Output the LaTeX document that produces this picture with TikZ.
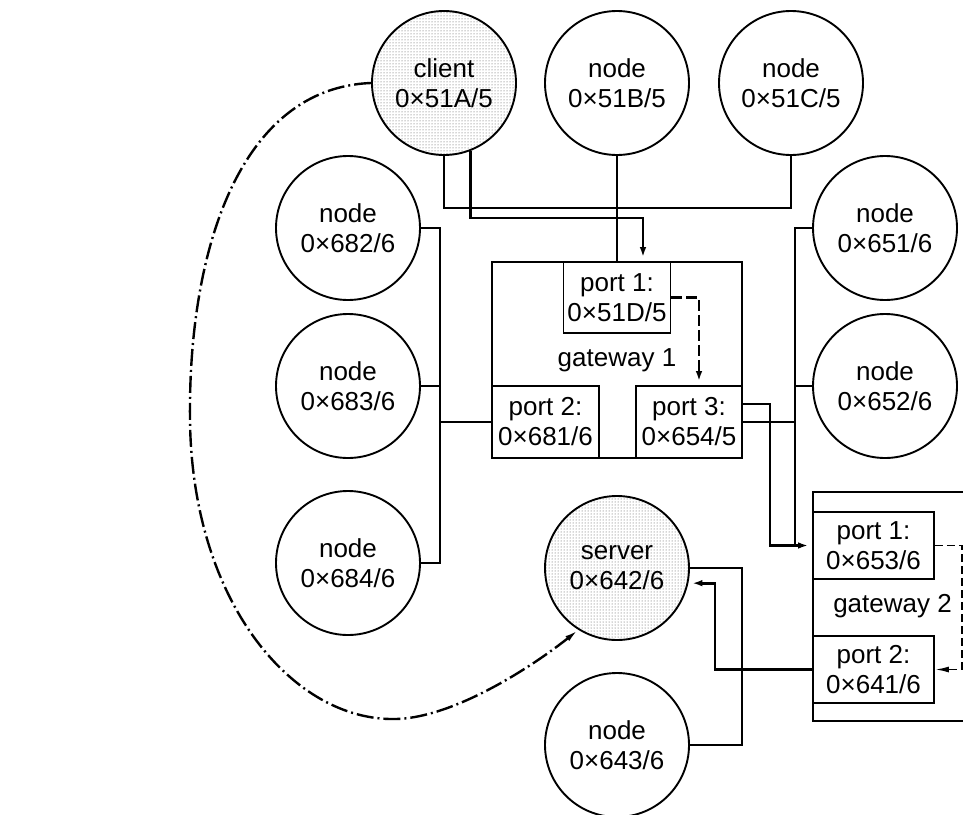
\documentclass[tikz,border=0pt]{standalone}
\usepackage{fontspec}
\setmainfont{Liberation Sans}
\usetikzlibrary{arrows.meta,patterns}
\begin{document}
\begin{tikzpicture}[x=1pt,y=-1pt,
  font=\fontsize{26}{30}\selectfont,
  ckt/.style={circle, draw, line width=1.9pt, minimum size=144pt, inner sep=0pt, align=center},
  hot/.style={ckt, pattern=dots, pattern color=black!70},
  portbox/.style={draw, line width=1.8pt, inner sep=0pt, align=center},
  gwbox/.style={draw, line width=1.8pt, inner sep=0pt, align=center},
  thinln/.style={line width=1.6pt},
  thickln/.style={line width=2.8pt},
  tip/.style={-{Latex[length=14pt,width=6pt]}},
  dashln/.style={dash pattern=on 11pt off 4pt},
  dashdotln/.style={line width=2.4pt, dash pattern=on 17pt off 4pt on 2pt off 4pt}
]
\clip (0,0) rectangle (963,814);

% circles
\node[hot] (client) at (444,83) {client\\0×51A/5};
\node[ckt] (n51B) at (617,83) {node\\0×51B/5};
\node[ckt] (n51C) at (791,83) {node\\0×51C/5};
\node[ckt] (n682) at (348,228) {node\\0×682/6};
\node[ckt] (n683) at (348,386) {node\\0×683/6};
\node[ckt] (n684) at (348,563) {node\\0×684/6};
\node[ckt] (n651) at (885,228) {node\\0×651/6};
\node[ckt] (n652) at (885,386) {node\\0×652/6};
\node[hot] (server) at (617,568) {server\\0×642/6};
\node[ckt] (n643) at (617,745) {node\\0×643/6};

% gateway 1
\node[gwbox, minimum width=250pt, minimum height=196pt] (gw1) at (617,360) {gateway 1};
\node[portbox, minimum width=107pt, minimum height=71pt] (g1p1) at (617,297.5) {port 1:\\0×51D/5};
\node[portbox, minimum width=107pt, minimum height=72pt] (g1p2) at (545.5,422) {port 2:\\0×681/6};
\node[portbox, minimum width=106pt, minimum height=72pt] (g1p3) at (689,422) {port 3:\\0×654/5};

% gateway 2
\node[gwbox, minimum width=159pt, minimum height=229pt] (gw2) at (892.5,606.5) {gateway 2};
\node[portbox, minimum width=121pt, minimum height=67pt] (g2p1) at (873.5,545.5) {port 1:\\0×653/6};
\node[portbox, minimum width=121pt, minimum height=67pt] (g2p2) at (873.5,669.5) {port 2:\\0×641/6};

% helper coordinates
\coordinate (bt) at (617,208);
\coordinate (a1) at (643,218);
\coordinate (d1) at (699,297.5);
\coordinate (t1) at (770,404);
\coordinate (rb) at (795,422);
\coordinate (rbb) at (795,545.5);
\coordinate (lbb) at (440,563);
\coordinate (sv) at (742,568);
\coordinate (sx) at (715,669.5);
\coordinate (gd) at (962,545.5);

% top bus
\draw[thinln] (client.south) |- (bt) -| (n51C.south);
\draw[thinln] (n51B.south) -- (g1p1.north);
\draw[thickln, tip] (client.-69.7) |- (a1) -- (a1 |- g1p1.north);
\draw[thickln, dashln, tip] (g1p1.east) -- (d1) -- (d1 |- g1p3.north);

% left bus
\draw[thinln] (n682.east) -| (lbb) -- (n684.east);
\draw[thinln] (n683.east) -- (n683.east -| lbb);
\draw[thinln] (g1p2.west) -- (g1p2.west -| lbb);

% right bus
\draw[thinln] (n651.west) -| (rbb);
\draw[thinln] (n652.west) -- (n652.west -| rb);
\draw[thinln] (g1p3.east) -- (rb);
\draw[thickln, tip] (g1p3.east |- t1) -- (t1) |- (g2p1.west);

% gateway 2 internal
\draw[line width=1.8pt, dash pattern=on 8pt off 4pt, tip] (g2p1.east) -- (gd) |- (g2p2.east);

% server side
\draw[thinln] (server.east) -- (sv) |- (n643.east);
\draw[thickln, tip] (g2p2.west) -- (sx) |- (server.-12);

% dash-dot route
\draw[dashdotln, tip] (client.west) .. controls (240,88) and (188,250) .. (190,420)
  .. controls (192,600) and (290,717) .. (390,719)
  .. controls (450,721) and (533,666) .. (server.-122.6);
\end{tikzpicture}
\end{document}
